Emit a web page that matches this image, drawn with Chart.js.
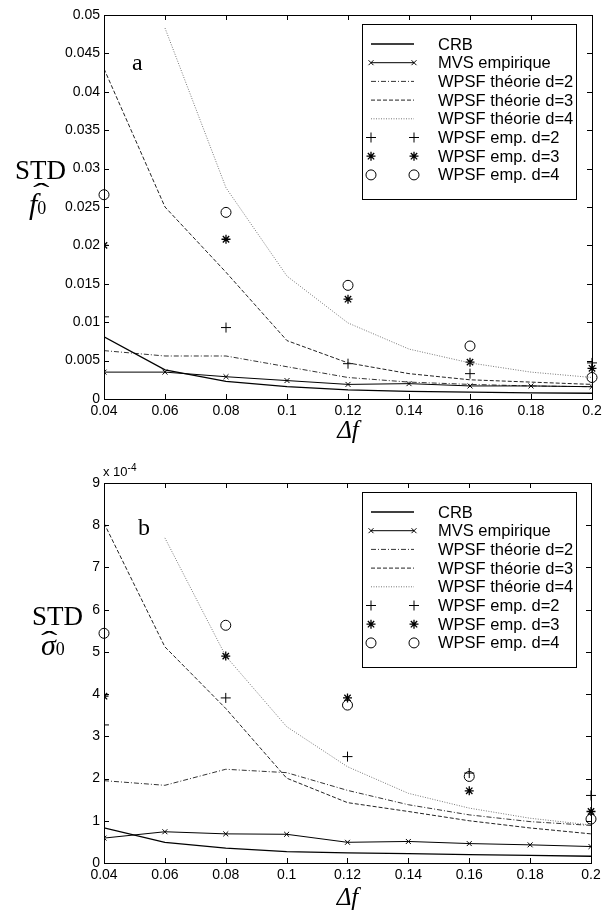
<!DOCTYPE html>
<html>
<head>
<meta charset="utf-8">
<script src="https://cdn.jsdelivr.net/npm/chart.js@4.4.0/dist/chart.umd.min.js"></script>
<style>
  body { margin: 0; background: #fff; width: 610px; height: 910px; position: relative; overflow: hidden; }
  canvas { position: absolute; left: 0; }
  .lbl { position: absolute; font-family: "Liberation Serif", "Times New Roman", serif; color: #000; line-height: 1; white-space: nowrap; }
  .sub { font-style: normal; font-size: 18px; }
  .hat { position: absolute; font-family: "Liberation Serif", serif; font-size: 26px; line-height: 1; transform: scaleX(1.9); transform-origin: left top; }
  .mult { position: absolute; font-family: "Liberation Sans", Arial, sans-serif; font-size: 13px; color: #000; line-height: 1; }
</style>
</head>
<body>
<canvas id="chartA" width="610" height="455" style="top:0"></canvas>
<canvas id="chartB" width="610" height="456" style="top:455px"></canvas>

<div class="lbl" style="left:15px;top:157px;font-size:27px">STD</div>
<div class="lbl" style="left:29px;top:189px;font-size:30px"><i>f</i><span class="sub">0</span></div>
<div class="hat" style="left:33px;top:180px">ˆ</div>
<div class="lbl" style="left:132px;top:50px;font-size:24px">a</div>

<div class="lbl" style="left:32px;top:603px;font-size:27px">STD</div>
<div class="lbl" style="left:41px;top:630px;font-size:30px"><i>&#963;</i><span class="sub">0</span></div>
<div class="hat" style="left:41px;top:628px">ˆ</div>
<div class="lbl" style="left:138px;top:515px;font-size:24px">b</div>
<div class="mult" style="left:103px;top:463px">x 10<sup style="font-size:10px">-4</sup></div>

<script>
// x positions (delta f)
const xs = [0.04, 0.06, 0.08, 0.1, 0.12, 0.14, 0.16, 0.18, 0.2];
const xsEmp = [0.04, 0.08, 0.12, 0.16, 0.2];
const xTickLabels = ['0.04', '0.06', '0.08', '0.1', '0.12', '0.14', '0.16', '0.18', '0.2'];

const seriesNames = ['CRB', 'MVS empirique', 'WPSF théorie d=2', 'WPSF théorie d=3', 'WPSF théorie d=4',
  'WPSF emp. d=2', 'WPSF emp. d=3', 'WPSF emp. d=4'];

// chart a : STD of f0
const crbA = [0.0081, 0.0038, 0.0023, 0.0016, 0.0012, 0.001, 0.0009, 0.0008, 0.00075];
const mvsA = [0.0035, 0.0035, 0.0029, 0.0024, 0.0019, 0.002, 0.0017, 0.0017, 0.0016];
const th2A = [0.0063, 0.0056, 0.0056, 0.0042, 0.0028, 0.0022, 0.0019, 0.0017, 0.0016];
const th3A = [0.043, 0.025, 0.0165, 0.0076, 0.0047, 0.0033, 0.0025, 0.0022, 0.0019];
const th4A = [null, 0.0483, 0.0275, 0.016, 0.0099, 0.0065, 0.0047, 0.0035, 0.0028];
const emp2A = [0.0107, 0.0093, 0.0046, 0.0033, 0.0047];
const emp3A = [0.02, 0.0208, 0.013, 0.0048, 0.004];
const emp4A = [0.0266, 0.0243, 0.0148, 0.0069, 0.0028];
const yTicksA = [0, 0.005, 0.01, 0.015, 0.02, 0.025, 0.03, 0.035, 0.04, 0.045, 0.05];
const yTickLabelsA = ['0', '0.005', '0.01', '0.015', '0.02', '0.025', '0.03', '0.035', '0.04', '0.045', '0.05'];

// chart b : STD of sigma0, in units of 1e-4
const crbB = [0.83, 0.49, 0.35, 0.27, 0.24, 0.22, 0.2, 0.18, 0.16];
const mvsB = [0.59, 0.74, 0.69, 0.68, 0.49, 0.51, 0.46, 0.43, 0.39];
const th2B = [1.95, 1.84, 2.22, 2.14, 1.72, 1.38, 1.14, 0.98, 0.89];
const th3B = [8.05, 5.12, 3.66, 2.01, 1.43, 1.22, 1.0, 0.83, 0.69];
const th4B = [null, 7.7, 4.9, 3.23, 2.28, 1.65, 1.3, 1.06, 0.9];
const emp2B = [3.27, 3.91, 2.52, 2.13, 1.6];
const emp3B = [3.95, 4.9, 3.91, 1.71, 1.22];
const emp4B = [5.44, 5.63, 3.74, 2.05, 1.04];
const yTicksB = [0, 1, 2, 3, 4, 5, 6, 7, 8, 9];
const yTickLabelsB = ['0', '1', '2', '3', '4', '5', '6', '7', '8', '9'];

const pts = (x, y) => x.map((v, i) => ({ x: v, y: y[i] }));
const sans = 'Liberation Sans, Arial, sans-serif';

function makeDatasets(crb, mvs, th2, th3, th4, e2, e3, e4) {
  const line = { showLine: true, pointRadius: 0, fill: false, borderWidth: 1, spanGaps: false };
  const mark = { showLine: false, borderWidth: 1, backgroundColor: 'rgba(0,0,0,0)', borderColor: '#000' };
  const clipLeft = { left: 0, top: false, right: false, bottom: false };
  return [
    { ...line, label: seriesNames[0], data: pts(xs, crb), borderColor: '#000', borderWidth: 1.3 },
    { ...line, label: seriesNames[1], data: pts(xs, mvs), borderColor: '#000', pointRadius: 3.5, pointStyle: 'crossRot', pointBorderColor: '#000' },
    { ...line, label: seriesNames[2], data: pts(xs, th2), borderColor: '#333', borderDash: [5, 2, 1, 2] },
    { ...line, label: seriesNames[3], data: pts(xs, th3), borderColor: '#222', borderDash: [4, 2] },
    { ...line, label: seriesNames[4], data: pts(xs, th4), borderColor: '#777', borderDash: [1, 1.5] },
    { ...mark, label: seriesNames[5], data: pts(xsEmp, e2), pointStyle: 'cross', pointRadius: 5, clip: clipLeft },
    { ...mark, label: seriesNames[6], data: pts(xsEmp, e3), pointStyle: 'star', pointRadius: 4.5, borderWidth: 1.3, clip: clipLeft },
    { ...mark, label: seriesNames[7], data: pts(xsEmp, e4), pointStyle: 'circle', pointRadius: 5, clip: false }
  ];
}

// frame, inner ticks and legend box, drawn the matlab way
const framePlugin = {
  id: 'frame',
  afterDraw(chart, args, opts) {
    const { ctx, chartArea: a, scales } = chart;
    ctx.save();
    ctx.strokeStyle = '#000';
    ctx.lineWidth = 1;
    ctx.setLineDash([]);
    ctx.strokeRect(Math.round(a.left) + 0.5, Math.round(a.top) + 0.5, Math.round(a.right - a.left), Math.round(a.bottom - a.top));
    ctx.beginPath();
    scales.x.ticks.forEach(t => {
      const px = Math.round(scales.x.getPixelForValue(t.value)) + 0.5;
      ctx.moveTo(px, a.bottom); ctx.lineTo(px, a.bottom - 5);
      ctx.moveTo(px, a.top); ctx.lineTo(px, a.top + 5);
    });
    scales.y.ticks.forEach(t => {
      const py = Math.round(scales.y.getPixelForValue(t.value)) + 0.5;
      ctx.moveTo(a.left, py); ctx.lineTo(a.left + 5, py);
      ctx.moveTo(a.right, py); ctx.lineTo(a.right - 5, py);
    });
    ctx.stroke();

    // legend
    const lx = opts.x, ly = opts.y, lw = 214, lh = 175, row = 18.7;
    ctx.fillStyle = '#fff';
    ctx.fillRect(lx, ly, lw, lh);
    ctx.strokeRect(lx + 0.5, ly + 0.5, lw, lh);
    ctx.font = '16.5px ' + sans;
    ctx.textBaseline = 'middle';
    chart.data.datasets.forEach((ds, i) => {
      const y = ly + 20 + i * row;
      const x0 = lx + 9, x1 = lx + 52;
      ctx.strokeStyle = ds.borderColor;
      ctx.lineWidth = ds.borderWidth;
      if (ds.showLine) {
        ctx.setLineDash(ds.borderDash || []);
        ctx.beginPath();
        ctx.moveTo(x0, y); ctx.lineTo(x1, y);
        ctx.stroke();
        ctx.setLineDash([]);
      }
      if (ds.pointStyle) {
        const po = { pointStyle: ds.pointStyle, radius: ds.pointRadius, rotation: 0, borderWidth: 1 };
        ctx.strokeStyle = '#000';
        ctx.fillStyle = 'rgba(0,0,0,0)';
        Chart.helpers.drawPoint(ctx, po, x0, y);
        Chart.helpers.drawPoint(ctx, po, x1, y);
      }
      ctx.fillStyle = '#000';
      ctx.fillText(ds.label, lx + 76, y + 1);
    });
    ctx.restore();
  }
};

function makeChart(id, datasets, yMax, yTicks, yTickLabels, pad, xHeight, titlePad, legendPos) {
  return new Chart(document.getElementById(id), {
    type: 'scatter',
    data: { datasets },
    plugins: [framePlugin],
    options: {
      responsive: false,
      animation: false,
      layout: { padding: pad },
      plugins: { legend: { display: false }, tooltip: { enabled: false }, frame: legendPos },
      scales: {
        x: {
          type: 'linear', min: 0.04, max: 0.2,
          afterBuildTicks: s => { s.ticks = xs.map(v => ({ value: v })); },
          afterFit: s => { s.height = xHeight; },
          ticks: { callback: (v, i) => xTickLabels[i], color: '#000', font: { family: sans, size: 14 }, padding: 4, maxRotation: 0, autoSkip: false },
          grid: { display: false, drawTicks: false },
          border: { display: false },
          title: { display: true, text: 'Δf', color: '#000', font: { family: 'Liberation Serif', style: 'italic', size: 25, lineHeight: 1 }, padding: { top: 0, bottom: titlePad } }
        },
        y: {
          type: 'linear', min: 0, max: yMax,
          afterBuildTicks: s => { s.ticks = yTicks.map(v => ({ value: v })); },
          afterFit: s => { s.width = 50; },
          ticks: { callback: (v, i) => yTickLabels[i], color: '#000', font: { family: sans, size: 14 }, padding: 4, autoSkip: false },
          grid: { display: false, drawTicks: false },
          border: { display: false }
        }
      }
    }
  });
}

makeChart('chartA', makeDatasets(crbA, mvsA, th2A, th3A, th4A, emp2A, emp3A, emp4A), 0.05, yTicksA, yTickLabelsA,
  { left: 54, right: 18, top: 15, bottom: 0 }, 56, 11, { x: 362, y: 24 });
makeChart('chartB', makeDatasets(crbB, mvsB, th2B, th3B, th4B, emp2B, emp3B, emp4B), 9, yTicksB, yTickLabelsB,
  { left: 54, right: 19, top: 28, bottom: 0 }, 48, 0, { x: 362, y: 37 });
</script>
</body>
</html>
